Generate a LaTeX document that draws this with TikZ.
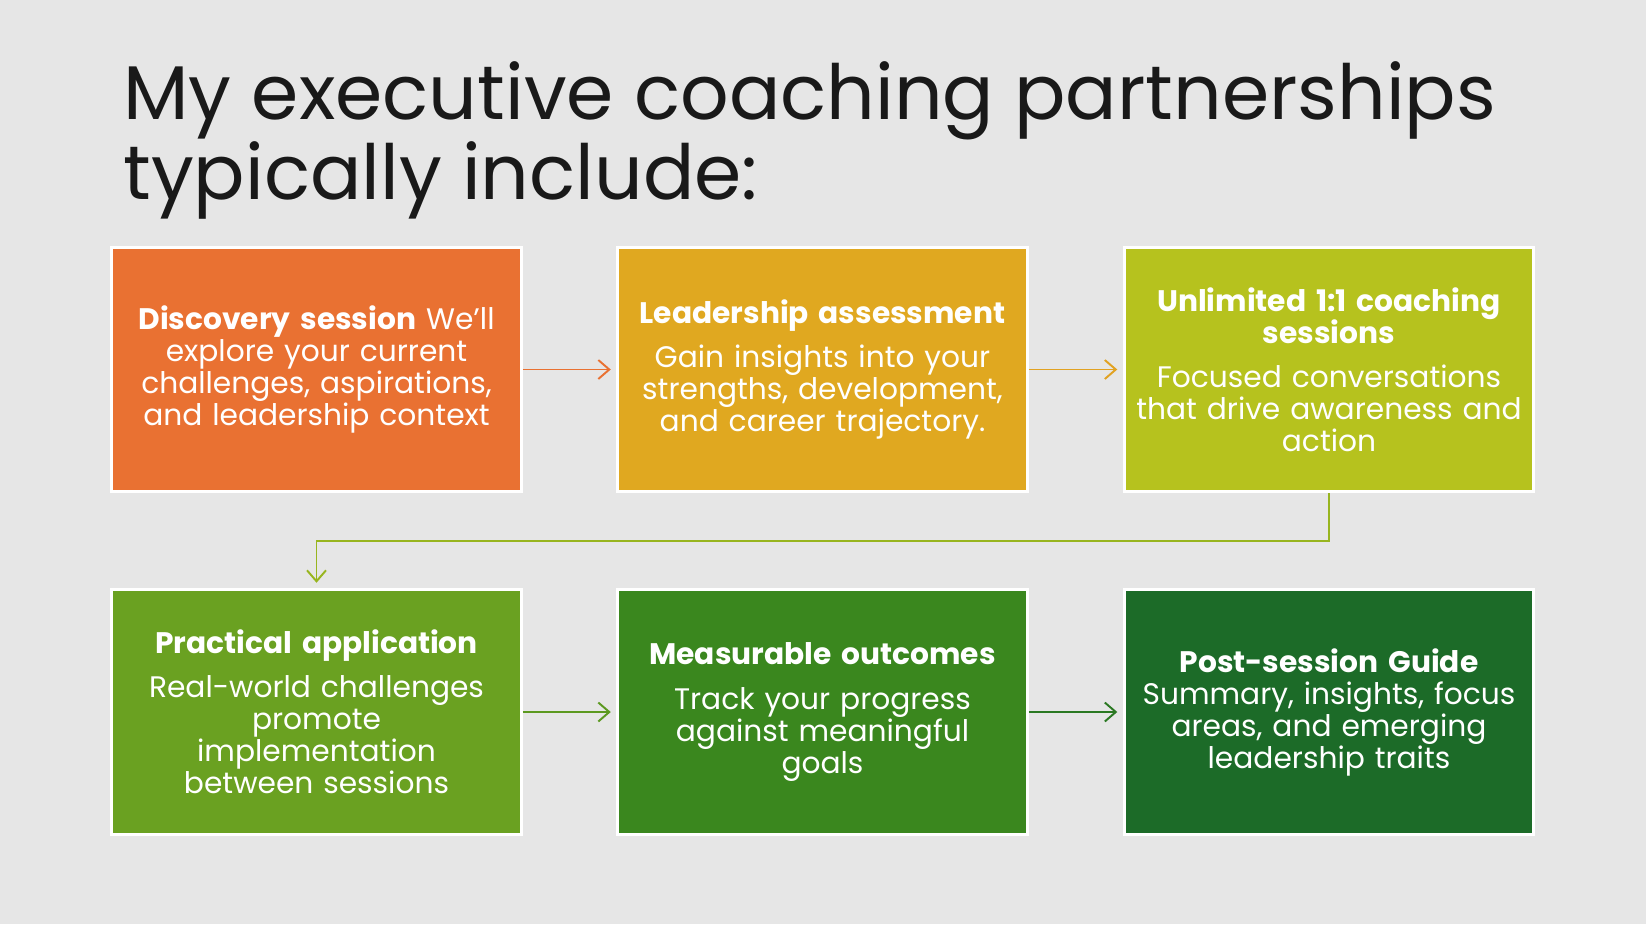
\documentclass[tikz,border=0pt]{standalone}
\usepackage{fontspec}
\setmainfont{Poppins}
\usetikzlibrary{arrows.meta}
\definecolor{bggray}{HTML}{E6E6E6}
\definecolor{orangeA}{HTML}{E97132}
\definecolor{goldB}{HTML}{E0A820}
\definecolor{limeC}{HTML}{B6C21E}
\definecolor{greenD}{HTML}{6AA121}
\definecolor{greenE}{HTML}{3A871E}
\definecolor{greenF}{HTML}{1C6B28}

\begin{document}
\begin{tikzpicture}[x=0.02cm,y=-0.02cm,card/.style={draw=white,line width=1.7pt,minimum width=8.2cm,minimum height=4.9cm,text width=7.9cm,align=center,text=white,font={\fontsize{16.9}{18.2}\selectfont\lineskiplimit=-10pt\relax}},a/.style={-{Straight Barb[length=2.2mm,width=3.8mm]},line width=1.1pt,shorten >=3pt}]
\fill[bggray] (0,0) rectangle (1646,924);
\node[anchor=north west,align=left,inner sep=0pt,text=black!90,font={\fontsize{43.3}{45.6}\selectfont\lineskiplimit=-20pt\relax}] (title) at (123,61) {My executive coaching partnerships\\typically include:};
% first row
\node[card,fill=orangeA] (disc) at (316.5,369.5) {\textbf{Discovery session} We'll\\explore your current\\challenges, aspirations,\\and leadership context};
\node[card,fill=goldB] (lead) at (822.5,369.5) {\textbf{Leadership assessment}\\[7pt]Gain insights into your\\strengths, development,\\and career trajectory.};
\node[card,fill=limeC] (unl) at (1329,369.5) {\textbf{Unlimited 1:1 coaching}\\\textbf{sessions}\\[7pt]Focused conversations\\that drive awareness and\\action};
% second row
\node[card,fill=greenD] (prac) at (316.5,712) {\textbf{Practical application}\\[7pt]Real-world challenges\\promote\\implementation\\between sessions};
\node[card,fill=greenE] (meas) at (822.5,712) {\textbf{Measurable outcomes}\\[7pt]Track your progress\\against meaningful\\goals};
\node[card,fill=greenF] (post) at (1329,712) {\textbf{Post-session Guide}\\Summary, insights, focus\\areas, and emerging\\leadership traits};
\coordinate (turn) at (1329,541);
\draw[a,draw=orangeA] (disc)--(lead);
\draw[a,draw=goldB!90!orangeA] (lead)--(unl);
\draw[a,draw=limeC!60!greenD] (unl.south)--(turn)-|(prac.north);
\draw[a,draw=greenD!70!greenE] (prac)--(meas);
\draw[a,draw=greenE!50!greenF] (meas)--(post);
\end{tikzpicture}
\end{document}
